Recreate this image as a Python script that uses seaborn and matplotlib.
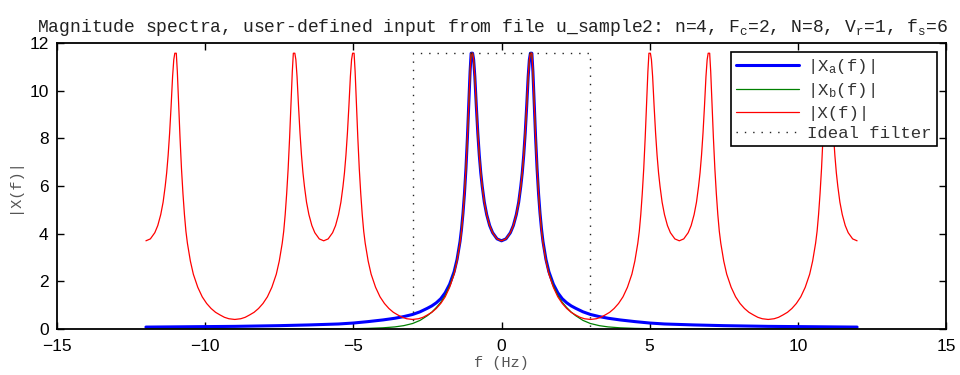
import matplotlib
matplotlib.use("Agg")
import matplotlib.pyplot as plt
import seaborn as sns

# ---------------- data ----------------
# |X_a(f)| and |X_b(f)| sampled on one frequency grid (Hz)
ab_f = [-12.0, -10.5, -9.0, -7.5, -6.5, -5.5, -5.0, -4.5, -4.0, -3.6, -3.3,
        -3.0, -2.75, -2.5, -2.35, -2.2, -2.05, -1.9, -1.75, -1.6, -1.5, -1.4,
        -1.35, -1.3, -1.25, -1.2, -1.15, -1.1, -1.06, -1.025, -0.975, -0.94,
        -0.9, -0.85, -0.8, -0.75, -0.7, -0.65, -0.58, -0.5, -0.4, -0.3, -0.15,
        0.0,
        0.15, 0.3, 0.4, 0.5, 0.58, 0.65, 0.7, 0.75, 0.8, 0.85, 0.9, 0.94,
        0.975, 1.025, 1.06, 1.1, 1.15, 1.2, 1.25, 1.3, 1.35, 1.4, 1.5, 1.6,
        1.75, 1.9, 2.05, 2.2, 2.35, 2.5, 2.75, 3.0, 3.3, 3.6, 4.0, 4.5, 5.0,
        5.5, 6.5, 7.5, 9.0, 10.5, 12.0]
xa_mag = [0.08, 0.095, 0.11, 0.14, 0.17, 0.21, 0.25, 0.31, 0.38, 0.45, 0.52,
          0.61, 0.72, 0.87, 0.97, 1.10, 1.27, 1.52, 1.88, 2.40, 2.92, 3.67,
          4.19, 4.85, 5.68, 6.73, 8.05, 9.59, 10.80, 11.57, 11.57, 11.30,
          10.59, 9.35, 8.22, 7.29, 6.55, 5.98, 5.32, 4.80, 4.34, 4.04, 3.78,
          3.70,
          3.78, 4.04, 4.34, 4.80, 5.32, 5.98, 6.55, 7.29, 8.22, 9.35, 10.59,
          11.30, 11.57, 11.57, 10.80, 9.59, 8.05, 6.73, 5.68, 4.85, 4.19,
          3.67, 2.92, 2.40, 1.88, 1.52, 1.27, 1.10, 0.97, 0.87, 0.72, 0.61,
          0.52, 0.45, 0.38, 0.31, 0.25, 0.21, 0.17, 0.14, 0.11, 0.095, 0.08]
xb_mag = [0.0, 0.0, 0.0, 0.0, 0.0, 0.007, 0.013, 0.025, 0.049, 0.087, 0.14,
          0.23, 0.36, 0.56, 0.71, 0.90, 1.12, 1.41, 1.81, 2.35, 2.89, 3.64,
          4.17, 4.84, 5.68, 6.73, 8.05, 9.59, 10.80, 11.57, 11.57, 11.30,
          10.59, 9.35, 8.22, 7.29, 6.55, 5.98, 5.32, 4.80, 4.34, 4.04, 3.78,
          3.70,
          3.78, 4.04, 4.34, 4.80, 5.32, 5.98, 6.55, 7.29, 8.22, 9.35, 10.59,
          11.30, 11.57, 11.57, 10.80, 9.59, 8.05, 6.73, 5.68, 4.84, 4.17,
          3.64, 2.89, 2.35, 1.81, 1.41, 1.12, 0.90, 0.71, 0.56, 0.36, 0.23,
          0.14, 0.087, 0.049, 0.025, 0.013, 0.007, 0.0, 0.0, 0.0, 0.0, 0.0]

# |X(f)| of the sampled signal (Hz, magnitude)
x_f = [-12.0, -11.85, -11.7, -11.6, -11.5, -11.42, -11.35, -11.3, -11.25,
       -11.2, -11.15, -11.1, -11.06, -11.025, -10.975, -10.94, -10.9, -10.85,
       -10.8, -10.75, -10.7, -10.65, -10.6, -10.5, -10.4, -10.25, -10.1,
       -9.95, -9.8, -9.65, -9.5, -9.35, -9.2, -9.0,
       -8.8, -8.65, -8.5, -8.35, -8.2, -8.05, -7.9, -7.75, -7.6, -7.5, -7.4,
       -7.35, -7.3, -7.25, -7.2, -7.15, -7.1, -7.06, -7.025, -6.975, -6.94,
       -6.9, -6.85, -6.8, -6.75, -6.7, -6.65, -6.58, -6.5, -6.4, -6.3, -6.15,
       -6.0,
       -5.85, -5.7, -5.6, -5.5, -5.42, -5.35, -5.3, -5.25, -5.2, -5.15, -5.1,
       -5.06, -5.025, -4.975, -4.94, -4.9, -4.85, -4.8, -4.75, -4.7, -4.65,
       -4.6, -4.5, -4.4, -4.25, -4.1, -3.95, -3.8, -3.65, -3.5, -3.35, -3.2,
       -3.0,
       -2.8, -2.65, -2.5, -2.35, -2.2, -2.05, -1.9, -1.75, -1.6, -1.5, -1.4,
       -1.35, -1.3, -1.25, -1.2, -1.15, -1.1, -1.06, -1.025, -0.975, -0.94,
       -0.9, -0.85, -0.8, -0.75, -0.7, -0.65, -0.58, -0.5, -0.4, -0.3, -0.15,
       0.0,
       0.15, 0.3, 0.4, 0.5, 0.58, 0.65, 0.7, 0.75, 0.8, 0.85, 0.9, 0.94,
       0.975, 1.025, 1.06, 1.1, 1.15, 1.2, 1.25, 1.3, 1.35, 1.4, 1.5, 1.6,
       1.75, 1.9, 2.05, 2.2, 2.35, 2.5, 2.65, 2.8, 3.0,
       3.2, 3.35, 3.5, 3.65, 3.8, 3.95, 4.1, 4.25, 4.4, 4.5, 4.6, 4.65, 4.7,
       4.75, 4.8, 4.85, 4.9, 4.94, 4.975, 5.025, 5.06, 5.1, 5.15, 5.2, 5.25,
       5.3, 5.35, 5.42, 5.5, 5.6, 5.7, 5.85, 6.0,
       6.15, 6.3, 6.4, 6.5, 6.58, 6.65, 6.7, 6.75, 6.8, 6.85, 6.9, 6.94,
       6.975, 7.025, 7.06, 7.1, 7.15, 7.2, 7.25, 7.3, 7.35, 7.4, 7.5, 7.6,
       7.75, 7.9, 8.05, 8.2, 8.35, 8.5, 8.65, 8.8, 9.0,
       9.2, 9.35, 9.5, 9.65, 9.8, 9.95, 10.1, 10.25, 10.4, 10.5, 10.6, 10.65,
       10.7, 10.75, 10.8, 10.85, 10.9, 10.94, 10.975, 11.025, 11.06, 11.1,
       11.15, 11.2, 11.25, 11.3, 11.35, 11.42, 11.5, 11.6, 11.7, 11.85, 12.0]
x_mag = [3.70, 3.78, 4.04, 4.34, 4.80, 5.32, 5.98, 6.55, 7.29, 8.22, 9.35,
         10.59, 11.30, 11.57, 11.57, 10.80, 9.59, 8.05, 6.73, 5.68, 4.80,
         4.10, 3.60, 2.85, 2.30, 1.75, 1.35, 1.07, 0.86, 0.70, 0.59, 0.49,
         0.43, 0.40,
         0.43, 0.49, 0.59, 0.70, 0.86, 1.07, 1.35, 1.75, 2.30, 2.85, 3.60,
         4.10, 4.80, 5.68, 6.73, 8.05, 9.59, 10.80, 11.57, 11.57, 11.30,
         10.59, 9.35, 8.22, 7.29, 6.55, 5.98, 5.32, 4.80, 4.34, 4.04, 3.78,
         3.70,
         3.78, 4.04, 4.34, 4.80, 5.32, 5.98, 6.55, 7.29, 8.22, 9.35, 10.59,
         11.30, 11.57, 11.57, 10.80, 9.59, 8.05, 6.73, 5.68, 4.80, 4.10,
         3.60, 2.85, 2.30, 1.75, 1.35, 1.07, 0.86, 0.70, 0.59, 0.49, 0.43,
         0.40,
         0.43, 0.49, 0.59, 0.70, 0.86, 1.07, 1.35, 1.75, 2.30, 2.85, 3.60,
         4.10, 4.80, 5.68, 6.73, 8.05, 9.59, 10.80, 11.57, 11.57, 11.30,
         10.59, 9.35, 8.22, 7.29, 6.55, 5.98, 5.32, 4.80, 4.34, 4.04, 3.78,
         3.70,
         3.78, 4.04, 4.34, 4.80, 5.32, 5.98, 6.55, 7.29, 8.22, 9.35, 10.59,
         11.30, 11.57, 11.57, 10.80, 9.59, 8.05, 6.73, 5.68, 4.80, 4.10,
         3.60, 2.85, 2.30, 1.75, 1.35, 1.07, 0.86, 0.70, 0.59, 0.49, 0.43,
         0.40,
         0.43, 0.49, 0.59, 0.70, 0.86, 1.07, 1.35, 1.75, 2.30, 2.85, 3.60,
         4.10, 4.80, 5.68, 6.73, 8.05, 9.59, 10.80, 11.57, 11.57, 11.30,
         10.59, 9.35, 8.22, 7.29, 6.55, 5.98, 5.32, 4.80, 4.34, 4.04, 3.78,
         3.70,
         3.78, 4.04, 4.34, 4.80, 5.32, 5.98, 6.55, 7.29, 8.22, 9.35, 10.59,
         11.30, 11.57, 11.57, 10.80, 9.59, 8.05, 6.73, 5.68, 4.80, 4.10,
         3.60, 2.85, 2.30, 1.75, 1.35, 1.07, 0.86, 0.70, 0.59, 0.49, 0.43,
         0.40,
         0.43, 0.49, 0.59, 0.70, 0.86, 1.07, 1.35, 1.75, 2.30, 2.85, 3.60,
         4.10, 4.80, 5.68, 6.73, 8.05, 9.59, 10.80, 11.57, 11.57, 11.30,
         10.59, 9.35, 8.22, 7.29, 6.55, 5.98, 5.32, 4.80, 4.34, 4.04, 3.78,
         3.70]

# ideal filter outline
filt_f = [-3, -3, 3, 3]
filt_mag = [0, 11.6, 11.6, 0]

labels = [r'|X$_a$(f)|', r'|X$_b$(f)|', '|X(f)|', 'Ideal filter']
title = (r'Magnitude spectra, user-defined input from file u_sample2: '
         r'n=4, F$_c$=2, N=8, V$_r$=1, f$_s$=6')
x_ticks = [-15, -10, -5, 0, 5, 10, 15]
y_ticks = [0, 2, 4, 6, 8, 10, 12]

# ---------------- drawing ----------------
sns.set_theme(style="ticks")
plt.rcParams['font.family'] = ['Liberation Sans', 'DejaVu Sans']
plt.rcParams['mathtext.default'] = 'regular'
mono = ['Liberation Mono', 'DejaVu Sans Mono']

fig = plt.figure(figsize=(9.6, 3.75), dpi=100)
ax = fig.add_axes([0.0594, 0.1227, 0.9260, 0.7627])

sns.lineplot(x=ab_f, y=xa_mag, ax=ax, color='#0000ff', lw=2.2,
             label=labels[0], sort=False, estimator=None)
sns.lineplot(x=ab_f, y=xb_mag, ax=ax, color='#008000', lw=0.9,
             label=labels[1], sort=False, estimator=None)
sns.lineplot(x=x_f, y=x_mag, ax=ax, color='#ff0000', lw=0.9,
             label=labels[2], sort=False, estimator=None)
sns.lineplot(x=filt_f, y=filt_mag, ax=ax, color='#222222', lw=1.0,
             label=labels[3], sort=False, estimator=None)
ax.lines[-1].set_dashes((1, 5))

ax.set_xlim(-15, 15)
ax.set_ylim(0, 12)
ax.set_xticks(x_ticks)
ax.set_yticks(y_ticks)
ax.tick_params(direction='in', length=5, width=1, top=True, right=True,
               labelsize=12.5, colors='black')
ax.tick_params(axis='x', pad=7)
ax.tick_params(axis='y', pad=6)
for s in ax.spines.values():
    s.set_visible(True)
    s.set_color('black')
    s.set_linewidth(1.3)

ax.set_xlabel('f (Hz)', family=mono, fontsize=11, color='#555555', labelpad=2)
ax.set_ylabel('|X(f)|', family=mono, fontsize=11, color='#555555', labelpad=6)
ax.set_title(title, family=mono, fontsize=13, color='#222222', pad=8, x=0.49)

leg = ax.legend(loc='upper right', bbox_to_anchor=(0.990, 0.969),
                borderaxespad=0, prop={'family': mono, 'size': 12.5},
                handlelength=3.6, handletextpad=0.5, labelspacing=0.3,
                borderpad=0.3, fancybox=False, framealpha=1,
                edgecolor='black')
leg.get_frame().set_linewidth(1.2)
for t in leg.get_texts():
    t.set_color('#333333')

fig.savefig('out.png', dpi=100, facecolor='white')
